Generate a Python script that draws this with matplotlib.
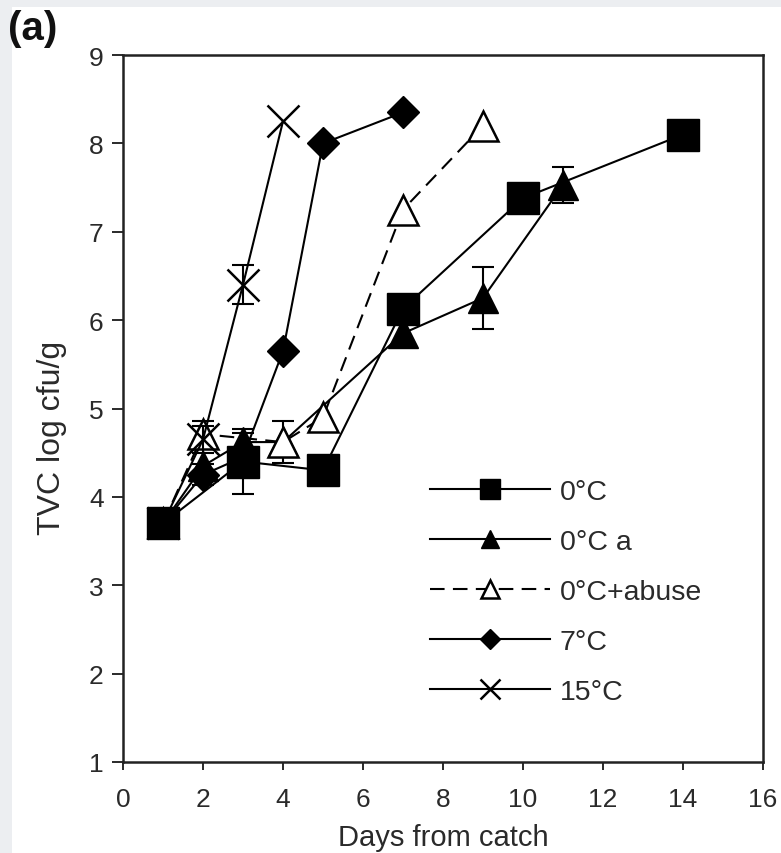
import matplotlib
matplotlib.use("Agg")
import matplotlib.pyplot as plt
from matplotlib.patches import Rectangle

plt.rcParams['font.family'] = ['Liberation Sans', 'DejaVu Sans']

# ---- data ----
days_0c = [1, 3, 5, 7, 10, 14]
tvc_0c = [3.7, 4.4, 4.3, 6.13, 7.38, 8.1]
err_0c = [0, 0.37, 0, 0, 0, 0]

days_0ca = [1, 2, 3, 4, 7, 9, 11]
tvc_0ca = [3.7, 4.35, 4.62, 4.62, 5.85, 6.25, 7.53]
err_0ca = [0, 0, 0.1, 0, 0, 0.35, 0.2]

days_abuse = [1, 2, 4, 5, 7, 9]
tvc_abuse = [3.7, 4.71, 4.62, 4.9, 7.25, 8.2]
err_abuse = [0, 0.15, 0.24, 0, 0, 0]

days_7c = [1, 2, 3, 4, 5, 7]
tvc_7c = [3.7, 4.25, 4.45, 5.65, 8.0, 8.35]
err_7c = [0, 0.12, 0, 0, 0, 0]

days_15c = [1, 2, 3, 4]
tvc_15c = [3.7, 4.65, 6.4, 8.25]
err_15c = [0, 0.15, 0.22, 0]

labels = ['0\u00b0C', '0\u00b0C a', '0\u00b0C+abuse', '7\u00b0C', '15\u00b0C']
xticks = [0, 2, 4, 6, 8, 10, 12, 14, 16]
yticks = [1, 2, 3, 4, 5, 6, 7, 8, 9]

# ---- figure ----
fig = plt.figure(figsize=(7.81, 8.54), dpi=100)
fig.patch.set_facecolor('#eceef1')
bg = Rectangle((12 / 781, 0), 1, 1 - 8 / 854, transform=fig.transFigure,
               facecolor='white', edgecolor='none', zorder=-10)
fig.add_artist(bg)

ax = fig.add_axes([123 / 781, 1 - 763 / 854, 640 / 781, 707 / 854])
ax.set_facecolor('white')
ax.set_zorder(1)

lw = 1.5
series = [
    (days_0c, tvc_0c, err_0c, dict(marker='s', ms=23, mfc='black', mec='black', ls='-'), 10),
    (days_0ca, tvc_0ca, err_0ca, dict(marker='^', ms=21, mfc='black', mec='black', ls='-'), 6),
    (days_abuse, tvc_abuse, err_abuse, dict(marker='^', ms=21, mfc='white', mec='black', mew=1.8,
                                             ls=(0, (7, 4))), 7),
    (days_7c, tvc_7c, err_7c, dict(marker='D', ms=16, mfc='black', mec='black', ls='-'), 5),
    (days_15c, tvc_15c, err_15c, dict(marker='x', ms=23, mec='black', mew=1.8, ls='-'), 8),
]

handles = []
for (d, v, e, style, z), lab in zip(series, labels):
    ed = [dd for dd, ee in zip(d, e) if ee > 0]
    ev = [vv for vv, ee in zip(v, e) if ee > 0]
    ee_ = [ee for ee in e if ee > 0]
    if ed:
        ax.errorbar(ed, ev, yerr=ee_, fmt='none', ecolor='black', elinewidth=1.5,
                    capsize=8, capthick=1.5, zorder=z - 0.5)
    ln, = ax.plot(d, v, color='black', lw=lw, label=lab, zorder=z, **style)
    handles.append(ln)

ax.set_xlim(0, 16)
ax.set_ylim(1, 9)
ax.set_xticks(xticks)
ax.set_yticks(yticks)
ax.tick_params(axis='both', direction='out', labelsize=19, colors='#2a2a2a', width=1.4)
ax.tick_params(axis='y', length=8, pad=6)
ax.tick_params(axis='x', length=6, pad=12)
for sp in ax.spines.values():
    sp.set_linewidth(1.8)
    sp.set_color('#222222')

ax.set_xlabel('Days from catch', fontsize=21, color='#2a2a2a', labelpad=9)
ax.set_ylabel('TVC log cfu/g', fontsize=23, color='#2a2a2a')
ax.yaxis.set_label_coords(-0.088, 0.46)

leg = ax.legend(handles=handles, loc='upper left', bbox_to_anchor=(0.48, 0.40),
                frameon=False, fontsize=20.5, handlelength=4.2, handletextpad=0.35,
                labelspacing=0.84, markerscale=0.62, borderaxespad=0, borderpad=0)
for t in leg.get_texts():
    t.set_color('#2a2a2a')

fig.text(8 / 781, 1 - 29 / 854, '(a)', fontsize=29, fontweight='bold', va='center', ha='left',
         color='#111111')

fig.savefig('out.png', dpi=100, facecolor=fig.get_facecolor())
